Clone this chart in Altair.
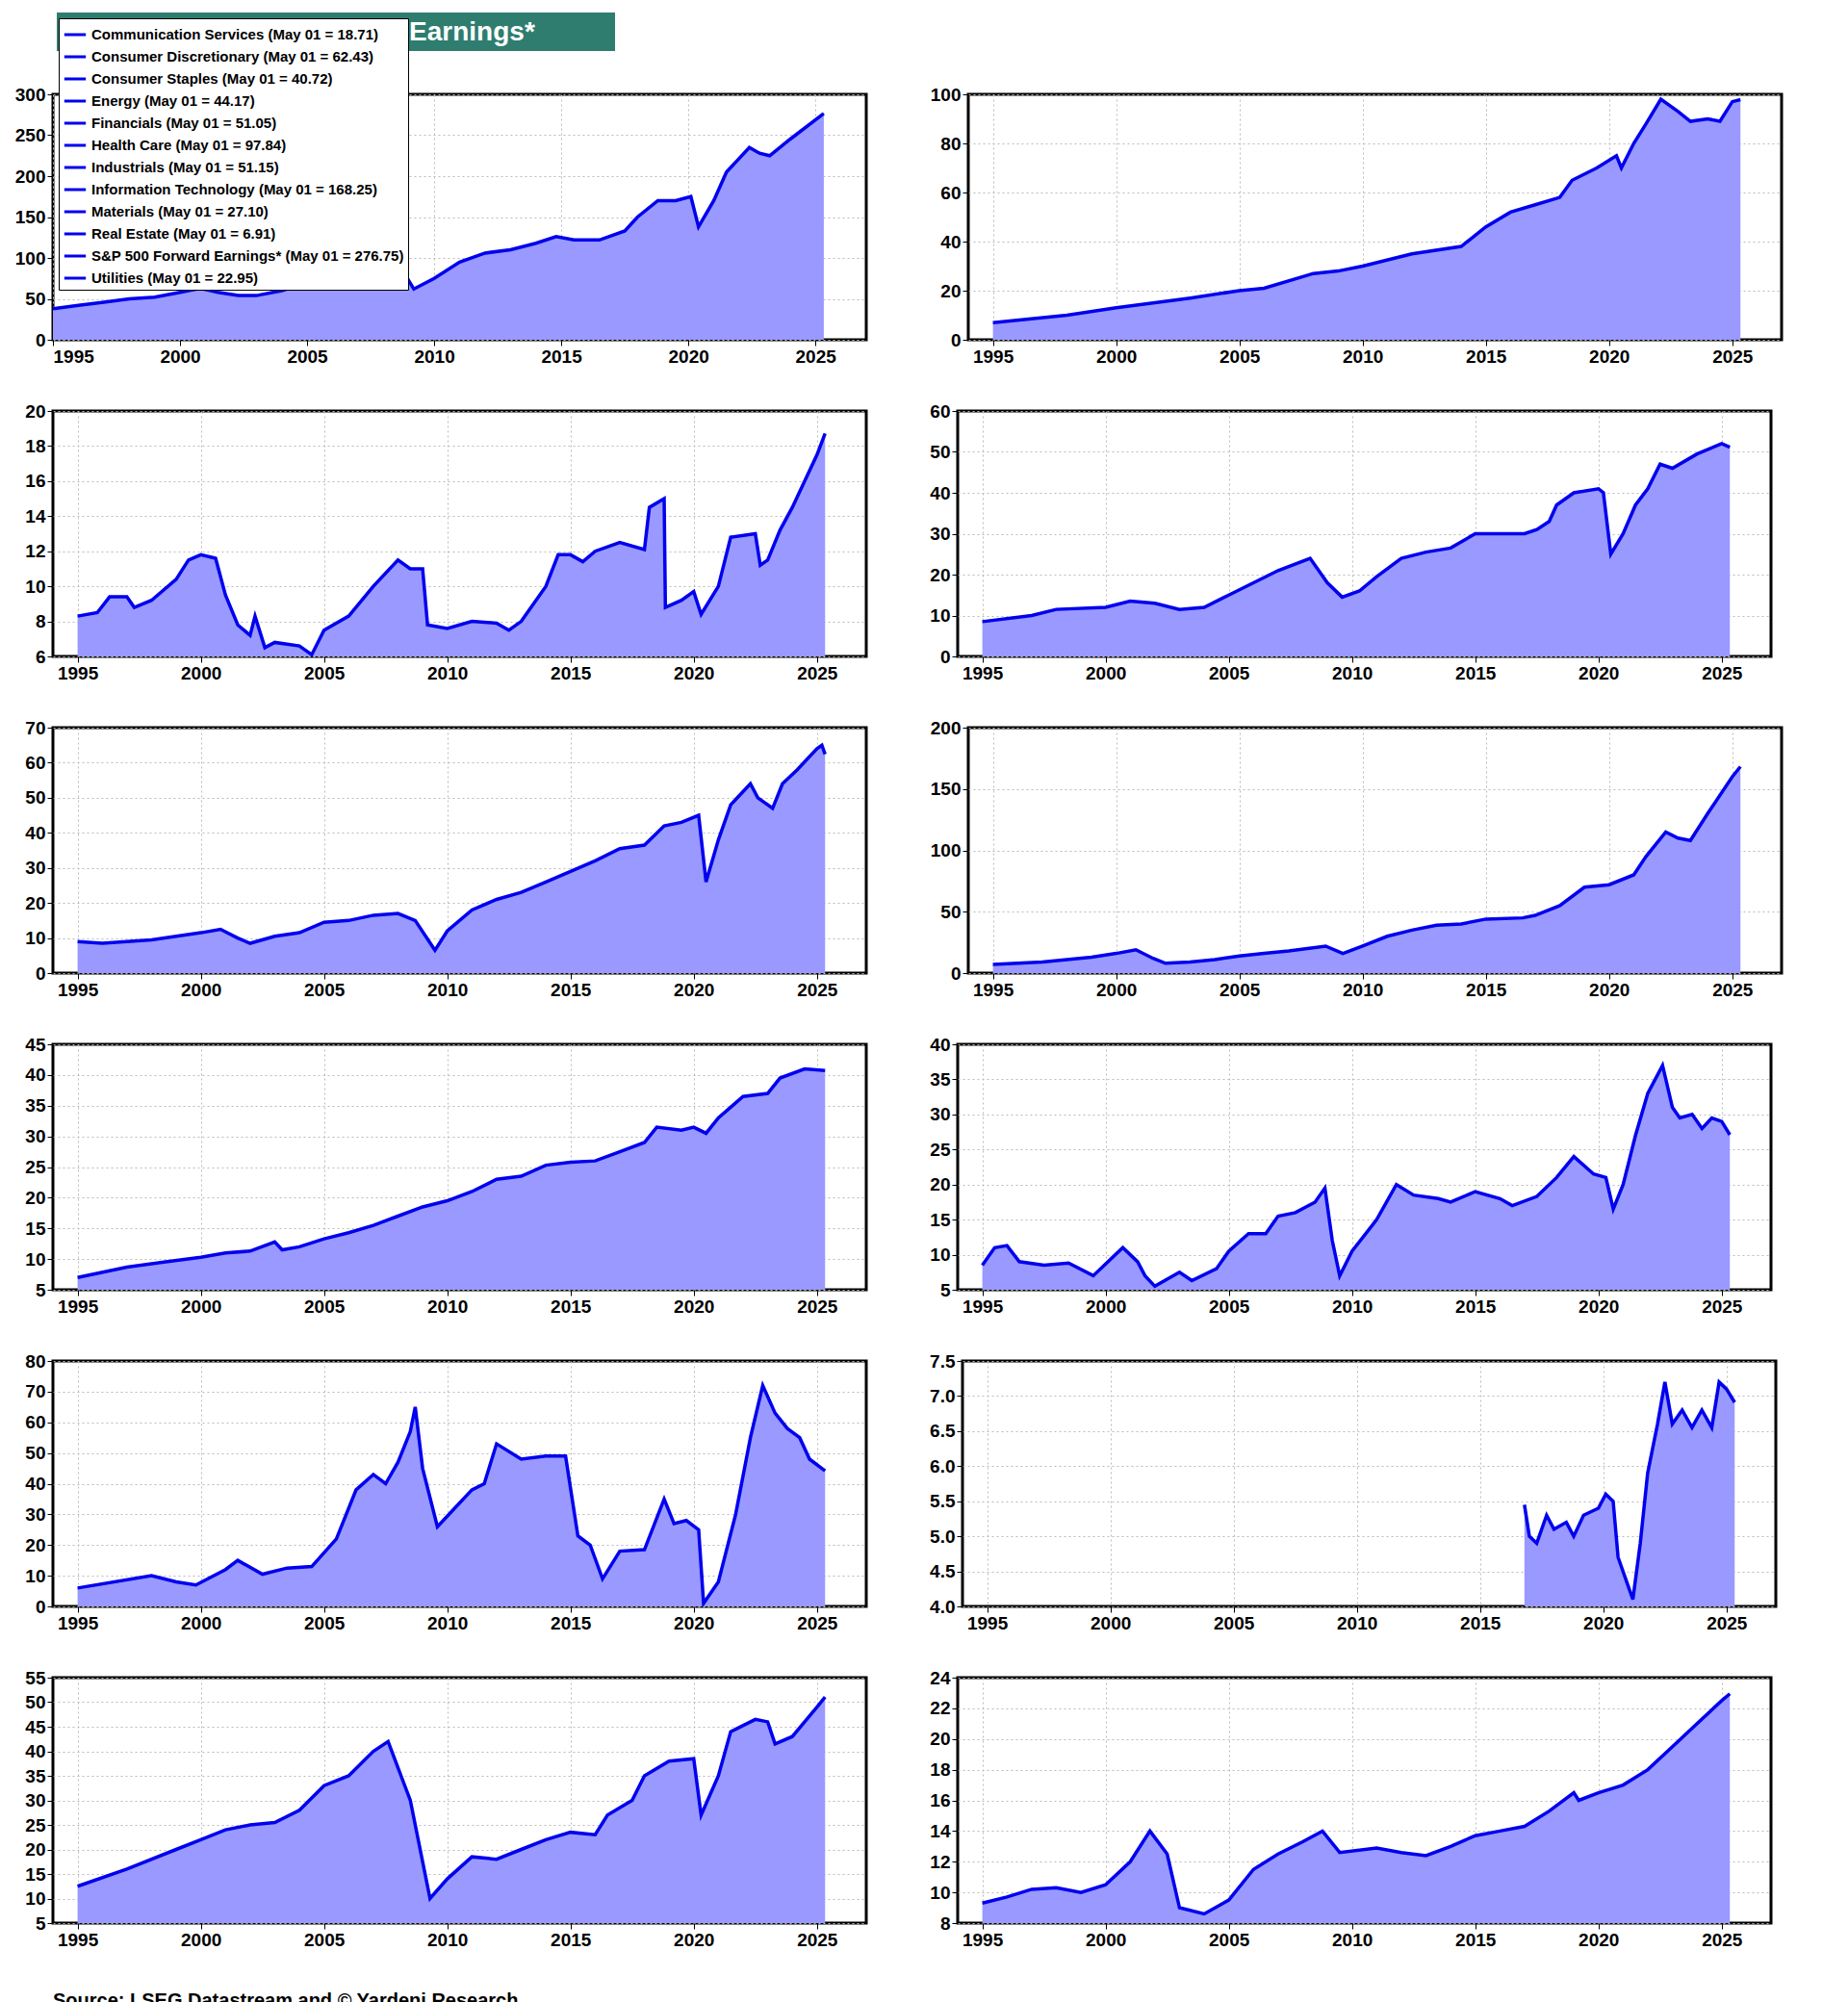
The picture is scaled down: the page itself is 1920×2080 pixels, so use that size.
import altair as alt
import pandas as pd

FONT = "Liberation Sans"

sp_x = [1995,1996,1997,1998,1999,2000,2000.8,2001.5,2002.3,2003,2004,2005,2006,2007,2007.8,2008.5,2009.2,2010,2011,2012,2013,2014,2014.8,2015.5,2016.5,2017.5,2018,2018.8,2019.5,2020.1,2020.4,2021,2021.5,2022.4,2022.8,2023.2,2024,2025.33]
sp_y = [38,42,46,50,52,58,63,58,54,54,60,70,80,92,102,98,62,75,95,106,110,118,126,122,122,133,150,170,170,175,138,170,205,235,228,225,245,276.75]
hc_x = [1995,1998,2000,2003,2005,2006,2008,2009,2010,2012,2014,2015,2016,2017,2018,2018.5,2019.5,2020.3,2020.5,2021,2021.5,2022.1,2022.8,2023.3,2024,2024.5,2025,2025.33]
hc_y = [7,10,13,17,20,21,27,28,30,35,38,46,52,55,58,65,70,75,70,80,88,98,93,89,90,89,97,97.84]
cm_x = [1995,1995.8,1996.3,1997,1997.3,1998,1999,1999.5,2000,2000.6,2001,2001.5,2002,2002.2,2002.6,2003,2004,2004.5,2005,2006,2007,2008,2008.5,2009,2009.2,2010,2011,2012,2012.5,2013,2014,2014.5,2015,2015.5,2016,2017,2018,2018.2,2018.8,2018.85,2019.5,2020,2020.3,2021,2021.5,2022.5,2022.7,2023,2023.5,2024,2025,2025.33]
cm_y = [8.3,8.5,9.4,9.4,8.8,9.2,10.4,11.5,11.8,11.6,9.5,7.8,7.2,8.3,6.5,6.8,6.6,6.1,7.5,8.3,10,11.5,11,11,7.8,7.6,8,7.9,7.5,8.0,10,11.8,11.8,11.4,12,12.5,12.1,14.5,15,8.8,9.2,9.7,8.4,10,12.8,13,11.2,11.5,13.2,14.5,17.5,18.71]
in_x = [1995,1997,1998,2000,2001,2002,2003,2004,2005,2007,2008.3,2009,2009.6,2010.3,2011,2012,2013,2014,2015,2016,2017,2017.5,2018,2018.3,2019,2020,2020.2,2020.5,2021,2021.5,2022,2022.5,2023,2024,2025,2025.33]
in_y = [8.5,10,11.5,12,13.5,13,11.5,12,15,21,24,18,14.5,16,19.5,24,25.5,26.5,30,30,30,31,33,37,40,41,40,25,30,37,41,47,46,49.5,52,51.15]
cd_x = [1995,1996,1998,2000,2000.8,2001.5,2002,2003,2004,2005,2006,2007,2008,2008.7,2009.5,2010,2011,2012,2013,2014,2015,2016,2017,2018,2018.8,2019.5,2020.2,2020.5,2021,2021.5,2022.3,2022.6,2023.2,2023.6,2024.2,2025,2025.2,2025.33]
cd_y = [9,8.5,9.5,11.5,12.5,10,8.5,10.5,11.5,14.5,15,16.5,17,15,6.5,12,18,21,23,26,29,32,35.5,36.5,42,43,45,26,38,48,54,50,47,54,58,64,65,62.43]
it_x = [1995,1997,1998,1999,2000,2000.8,2001.5,2002,2003,2004,2005,2006,2007,2008.5,2009.2,2010,2011,2012,2013,2014,2015,2016.5,2017,2018,2019,2020,2021,2021.5,2022.3,2022.8,2023.3,2024,2025,2025.33]
it_y = [7,9,11,13,16,19,12,8,9,11,14,16,18,22,16,22,30,35,39,40,44,45,47,55,70,72,80,95,115,110,108,130,160,168.25]
cs_x = [1995,1997,1998.5,2000,2001,2002,2003,2003.3,2004,2005,2006,2007,2008,2009,2009.5,2010,2011,2012,2013,2014,2015,2016,2017,2018,2018.5,2019.5,2020,2020.5,2021,2022,2023,2023.5,2024.5,2025.33]
cs_y = [7,8.7,9.5,10.3,11,11.3,12.8,11.5,12,13.3,14.3,15.5,17,18.5,19,19.5,21,23,23.5,25.3,25.8,26,27.5,29,31.5,31,31.5,30.5,33,36.5,37,39.5,41,40.72]
mt_x = [1995,1995.5,1996,1996.5,1997.5,1998.5,1999.5,2000.7,2001.3,2001.6,2002,2002.5,2003,2003.5,2004.5,2005,2005.8,2006.5,2007,2007.7,2008.5,2008.9,2009.2,2009.5,2010,2011,2011.8,2012.5,2013.5,2014,2015,2016,2016.5,2017.5,2018.3,2019,2019.8,2020.3,2020.6,2021,2021.5,2022,2022.6,2023,2023.3,2023.8,2024.2,2024.6,2025,2025.33]
mt_y = [8.5,11,11.3,9,8.5,8.8,7,11,9,7,5.5,6.5,7.5,6.3,8,10.5,13,13,15.5,16,17.5,19.5,12,7,10.5,15,20,18.5,18,17.5,19,18,17,18.3,21,24,21.5,21,16.5,20,27,33,37,31,29.5,30,28,29.5,29,27.1]
en_x = [1995,1998,1999,1999.8,2001,2001.5,2002.5,2003.5,2004.5,2005.5,2006.3,2007,2007.5,2008,2008.5,2008.7,2009,2009.6,2010.3,2011,2011.5,2012,2013,2014,2014.8,2015.3,2015.8,2016.3,2017,2018,2018.8,2019.2,2019.7,2020.2,2020.4,2021,2021.7,2022.3,2022.8,2023.3,2023.8,2024.3,2024.7,2025.33]
en_y = [6,10,8,7,12,15,10.5,12.5,13,22,38,43,40,47,57,65,45,26,32,38,40,53,48,49,49,23,20,9,18,18.5,35,27,28,25,1,8,30,55,72,63,58,55,48,44.17]
re_x = [2016.8,2017,2017.3,2017.7,2018,2018.5,2018.8,2019.2,2019.8,2020.1,2020.4,2020.6,2021,2021.2,2021.5,2021.8,2022.2,2022.5,2022.8,2023.2,2023.6,2024,2024.4,2024.7,2025,2025.33]
re_y = [5.45,5.0,4.9,5.3,5.1,5.2,5.0,5.3,5.4,5.6,5.5,4.7,4.3,4.1,4.9,5.9,6.6,7.2,6.6,6.8,6.55,6.8,6.55,7.2,7.1,6.91]
fn_x = [1995,1997,1999,2000,2001,2002,2003,2004,2005,2006,2007,2007.6,2008.5,2009.3,2010,2011,2012,2013,2014,2015,2016,2016.5,2017.5,2018,2019,2020,2020.3,2021,2021.5,2022.5,2023,2023.3,2024,2025,2025.33]
fn_y = [12.5,16,20,22,24,25,25.5,28,33,35,40,42,30,10,14,18.5,18,20,22,23.5,23,27,30,35,38,38.5,27,35,44,46.5,46,41.5,43,49,51.05]
ut_x = [1995,1996,1997,1998,1999,2000,2001,2001.8,2002.5,2003,2004,2005,2006,2007,2008,2008.8,2009.5,2011,2012,2013,2014,2015,2016,2017,2018,2019,2019.2,2020,2021,2022,2023,2024,2025,2025.33]
ut_y = [9.3,9.7,10.2,10.3,10,10.5,12,14,12.5,9,8.6,9.5,11.5,12.5,13.3,14,12.6,12.9,12.6,12.4,13,13.7,14,14.3,15.3,16.5,16,16.5,17,18,19.5,21,22.5,22.95]

panels = [
    ("S&P 500 Forward Earnings* (May 01 = 276.75)", sp_x, sp_y, 0, 300, 50, "d"),
    ("Health Care (May 01 = 97.84)", hc_x, hc_y, 0, 100, 20, "d"),
    ("Communication Services (May 01 = 18.71)", cm_x, cm_y, 6, 20, 2, "d"),
    ("Industrials (May 01 = 51.15)", in_x, in_y, 0, 60, 10, "d"),
    ("Consumer Discretionary (May 01 = 62.43)", cd_x, cd_y, 0, 70, 10, "d"),
    ("Information Technology (May 01 = 168.25)", it_x, it_y, 0, 200, 50, "d"),
    ("Consumer Staples (May 01 = 40.72)", cs_x, cs_y, 5, 45, 5, "d"),
    ("Materials (May 01 = 27.10)", mt_x, mt_y, 5, 40, 5, "d"),
    ("Energy (May 01 = 44.17)", en_x, en_y, 0, 80, 10, "d"),
    ("Real Estate (May 01 = 6.91)", re_x, re_y, 4, 7.5, 0.5, ".1f"),
    ("Financials (May 01 = 51.05)", fn_x, fn_y, 5, 55, 5, "d"),
    ("Utilities (May 01 = 22.95)", ut_x, ut_y, 8, 24, 2, "d"),
]

W, H = 845, 255

def panel(i, label, xs, ys, lo, hi, step, fmt):
    df = pd.DataFrame({"year": xs, "value": ys, "label": label})
    xdom = [1995, 2027] if i == 0 else [1994, 2027]
    n = int(round((hi - lo) / step))
    ticks = [round(lo + k * step, 2) for k in range(n + 1)]
    x = alt.X("year:Q", scale=alt.Scale(domain=xdom, nice=False),
              axis=alt.Axis(values=[1995, 2000, 2005, 2010, 2015, 2020, 2025], format="d", title=None))
    y = alt.Y("value:Q", scale=alt.Scale(domain=[lo, hi], nice=False, zero=False),
              axis=alt.Axis(values=ticks, format=fmt, title=None))
    base = alt.Chart(df)
    area = base.mark_area(color="#9999ff", opacity=1, clip=True).encode(x=x, y=y, y2=alt.datum(lo))
    line = base.mark_line(strokeWidth=3.5, clip=True).encode(
        x=x, y=y,
        color=alt.Color("label:N", scale=alt.Scale(range=["#0000ee"]),
                        legend=alt.Legend(orient="top-left", title=None, strokeColor="black",
                                          fillColor="white", padding=4, offset=6,
                                          symbolType="stroke", symbolStrokeWidth=3, symbolSize=500,
                                          labelFont=FONT, labelFontWeight="bold", labelFontSize=15,
                                          labelLimit=600)))
    return alt.layer(area, line).properties(width=W, height=H)

charts = [panel(i, *p) for i, p in enumerate(panels)]
rows = [alt.hconcat(charts[2*r], charts[2*r+1], spacing=62) for r in range(6)]

title_df = pd.DataFrame({"t": ["S&P 500 Sectors Forward Earnings*"]})
banner = alt.layer(
    alt.Chart(title_df).mark_rect(color="#2e7d6e").encode(
        x=alt.value(4), x2=alt.value(584), y=alt.value(0), y2=alt.value(40)),
    alt.Chart(title_df).mark_text(color="white", font=FONT, fontWeight="bold", fontSize=28,
                                  align="left", baseline="middle").encode(
        text="t:N", x=alt.value(22), y=alt.value(21)),
).properties(width=W, height=40, view=alt.ViewBackground(stroke=None))

foot_df = pd.DataFrame({"t": ["Source: LSEG Datastream and © Yardeni Research.",
                              "*Time-weighted average of current and next year’s consensus earnings estimates."],
                        "k": [0, 1]})
footer = alt.Chart(foot_df).mark_text(font=FONT, fontWeight="bold", fontSize=20, align="left",
                                      baseline="middle", color="black").encode(
    text="t:N", x=alt.value(0),
    y=alt.Y("k:O", axis=None, scale=alt.Scale(range=[10, 40]))).properties(
    width=W, height=50, view=alt.ViewBackground(stroke=None))

chart = alt.vconcat(banner, *rows, footer, spacing=34).configure_view(
    stroke="black", strokeWidth=3
).configure_axis(
    labelFont=FONT, labelFontWeight="bold", labelFontSize=19, labelColor="black",
    grid=True, gridDash=[2, 3], gridColor="#bbbbbb", domain=False,
    tickColor="black", tickSize=6
)

chart.save("out.html", embed_options={"renderer": "svg", "actions": False})
